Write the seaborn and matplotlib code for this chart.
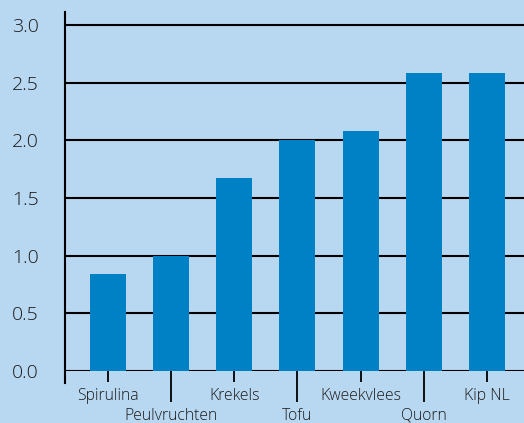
"""
Bar chart: values per product (light blue panel)
"""

import matplotlib
matplotlib.use('Agg')
import matplotlib.pyplot as plt
import seaborn as sns

categories = ['Spirulina', 'Peulvruchten', 'Krekels', 'Tofu',
              'Kweekvlees', 'Quorn', 'Kip NL']
values = [0.84, 1.0, 1.67, 2.0, 2.08, 2.58, 2.58]
y_ticks = [0.0, 0.5, 1.0, 1.5, 2.0, 2.5, 3.0]

bg = '#b8d7f0'
bar_color = '#0081c6'
text_color = '#1a1a1a'

sns.set_style('white')
plt.rcParams['font.family'] = ['Open Sans', 'DejaVu Sans']
plt.rcParams['font.weight'] = 'light'

fig = plt.figure(figsize=(5.24, 4.23), dpi=100, facecolor=bg)
ax = fig.add_axes([65 / 524, 52 / 423, 459 / 524, 359 / 423])
ax.set_facecolor(bg)

sns.barplot(x=categories, y=values, color=bar_color, saturation=1,
            width=0.57, linewidth=0, ax=ax)

ax.set_xlim(-0.68, 6.586)
ax.set_ylim(0, 3.113)
ax.set_yticks(y_ticks)
ax.set_yticklabels([f'{v:.1f}' for v in y_ticks])
ax.yaxis.grid(True, color='black', linewidth=1.5)
ax.set_axisbelow(True)

# alternate label rows: major ticks short, minor ticks long
pos = list(range(len(categories)))
ax.set_xticks(pos[::2])
ax.set_xticklabels(categories[::2])
ax.set_xticks(pos[1::2], minor=True)
ax.set_xticklabels(categories[1::2], minor=True)
ax.tick_params(axis='x', which='major', direction='out', length=8,
               width=1.3, color='black', pad=4, labelsize=11.3,
               labelcolor=text_color)
ax.tick_params(axis='x', which='minor', direction='out', length=22,
               width=1.3, color='black', pad=4.5, labelsize=11.3,
               labelcolor=text_color)
ax.tick_params(axis='y', direction='out', length=9.5, width=1.5,
               color='black', pad=9.5, labelsize=14,
               labelcolor=text_color)
ax.tick_params(axis='x', which='both', bottom=True)

for side in ['top', 'right', 'bottom']:
    ax.spines[side].set_visible(False)
ax.spines['left'].set_color('black')
ax.spines['left'].set_linewidth(1.5)
ax.spines['left'].set_bounds(-0.105, 3.113)

ax.set_xlabel('')
ax.set_ylabel('')

fig.savefig('out.png', dpi=100, facecolor=bg)
